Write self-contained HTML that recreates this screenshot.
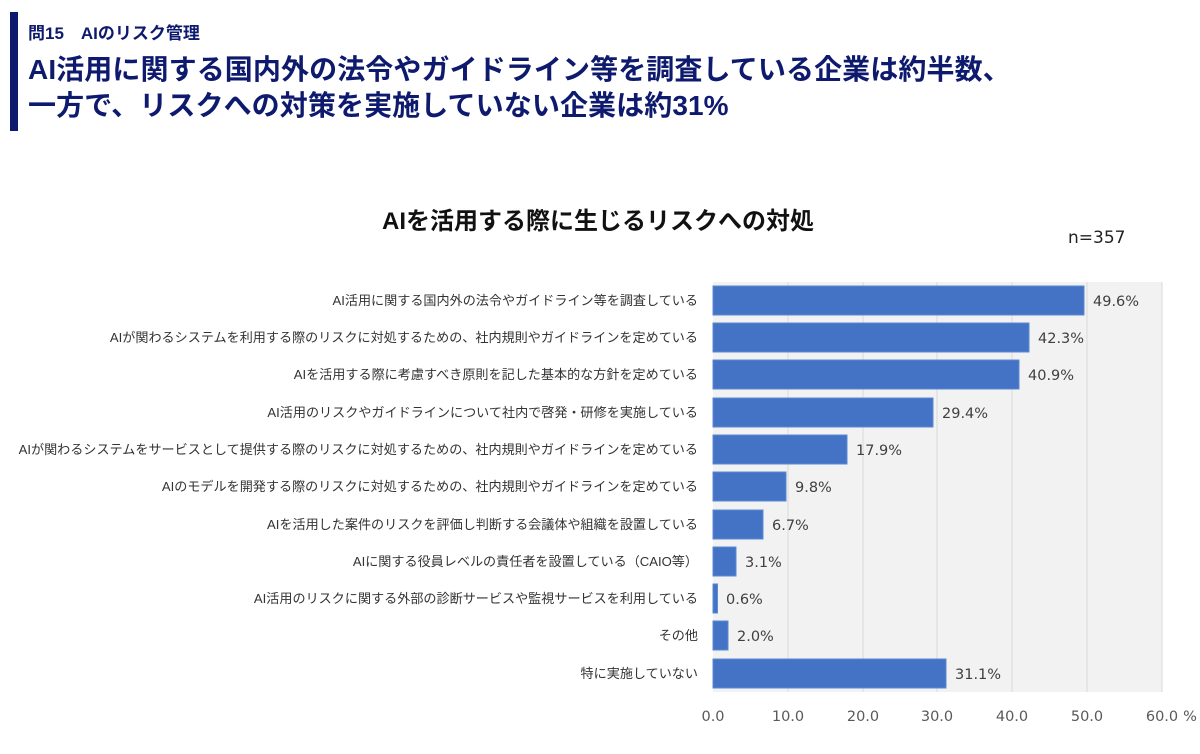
<!DOCTYPE html>
<html><head><meta charset="utf-8"><style>
body{margin:0;width:1200px;height:754px;background:#fff;position:relative;overflow:hidden;font-family:"Liberation Sans","Noto Sans CJK JP",sans-serif;}
.a{position:absolute;white-space:nowrap;}
</style></head><body>
<div class="a" style="left:10px;top:12px;width:8px;height:119px;background:#0d1a6e"></div>
<div class="a" style="left:28px;top:19px;font-size:17px;font-weight:bold;color:#0d1a6e">問15　AIのリスク管理</div>
<div class="a" style="left:28px;top:52px;font-size:28px;font-weight:bold;color:#0d1a6e;line-height:36px;letter-spacing:0.1px">AI活用に関する国内外の法令やガイドライン等を調査している企業は約半数、<br>一方で、リスクへの対策を実施していない企業は約31%</div>
<div class="a" style="left:0;width:1196px;text-align:center;top:201px;font-size:24px;font-weight:bold;color:#111">AIを活用する際に生じるリスクへの対処</div>
<div class="a" style="left:1068px;top:228px;font-size:17px;color:#222;font-family:'DejaVu Sans',sans-serif">n=357</div>
<svg class="a" style="left:0;top:0" width="1200" height="754">
<rect x="713" y="282" width="449" height="410" fill="#f2f2f2"/>
<g stroke="#d9d9d9" stroke-width="1">
<line x1="788" y1="282" x2="788" y2="692"/><line x1="863" y1="282" x2="863" y2="692"/><line x1="937" y1="282" x2="937" y2="692"/><line x1="1012" y1="282" x2="1012" y2="692"/><line x1="1087" y1="282" x2="1087" y2="692"/><line x1="1162" y1="282" x2="1162" y2="692"/>
</g>
<g fill="#4472c4" stroke="#5b8ad6" stroke-width="1">
<rect x="713" y="286" width="371" height="29"/>
<rect x="713" y="323" width="316" height="29"/>
<rect x="713" y="360" width="306" height="29"/>
<rect x="713" y="398" width="220" height="29"/>
<rect x="713" y="435" width="134" height="29"/>
<rect x="713" y="472" width="73" height="29"/>
<rect x="713" y="510" width="50" height="29"/>
<rect x="713" y="547" width="23" height="29"/>
<rect x="713" y="584" width="4.5" height="29"/>
<rect x="713" y="621" width="15" height="29"/>
<rect x="713" y="659" width="233" height="29"/>
</g>
<g font-size="14.5" fill="#404040" font-family="DejaVu Sans, sans-serif">
<text x="1093" y="306">49.6%</text><text x="1038" y="343">42.3%</text><text x="1028" y="380">40.9%</text><text x="942" y="418">29.4%</text><text x="856" y="455">17.9%</text><text x="795" y="492">9.8%</text><text x="772" y="530">6.7%</text><text x="745" y="567">3.1%</text><text x="726" y="604">0.6%</text><text x="737" y="641">2.0%</text><text x="955" y="679">31.1%</text>
</g>
<g font-size="13.1" fill="#333" text-anchor="end" font-family="Liberation Sans, Noto Sans CJK JP, sans-serif">
<text x="698" y="305">AI活用に関する国内外の法令やガイドライン等を調査している</text>
<text x="698" y="342">AIが関わるシステムを利用する際のリスクに対処するための、社内規則やガイドラインを定めている</text>
<text x="698" y="379">AIを活用する際に考慮すべき原則を記した基本的な方針を定めている</text>
<text x="698" y="417">AI活用のリスクやガイドラインについて社内で啓発・研修を実施している</text>
<text x="698" y="454">AIが関わるシステムをサービスとして提供する際のリスクに対処するための、社内規則やガイドラインを定めている</text>
<text x="698" y="491">AIのモデルを開発する際のリスクに対処するための、社内規則やガイドラインを定めている</text>
<text x="698" y="529">AIを活用した案件のリスクを評価し判断する会議体や組織を設置している</text>
<text x="698" y="566">AIに関する役員レベルの責任者を設置している（CAIO等）</text>
<text x="698" y="603">AI活用のリスクに関する外部の診断サービスや監視サービスを利用している</text>
<text x="698" y="640">その他</text>
<text x="698" y="678">特に実施していない</text>
</g>
<g font-size="14.5" fill="#595959" text-anchor="middle" font-family="DejaVu Sans, sans-serif">
<text x="713" y="721">0.0</text><text x="788" y="721">10.0</text><text x="863" y="721">20.0</text><text x="937" y="721">30.0</text><text x="1012" y="721">40.0</text><text x="1087" y="721">50.0</text><text x="1162" y="721">60.0</text>
<text x="1190" y="721">%</text>
</g>
</svg>
</body></html>
